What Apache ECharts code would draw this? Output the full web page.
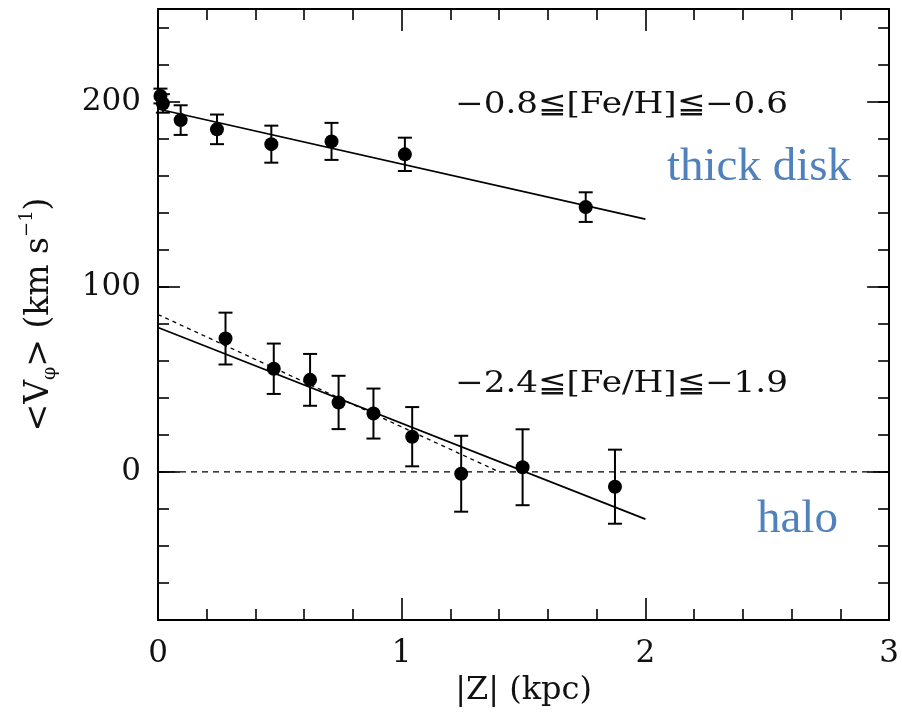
<!DOCTYPE html>
<html>
<head>
<meta charset="utf-8">
<script src="https://cdn.jsdelivr.net/npm/echarts@6/dist/echarts.min.js"></script>
<style>html,body{margin:0;padding:0;background:#fff}#c{width:902px;height:720px}</style>
</head>
<body>
<div id="c"></div>
<script>
// ---- data ----
const diskZ   = [0.01, 0.02, 0.093, 0.242, 0.465, 0.712, 1.013, 1.755];
const diskV   = [203, 199, 190, 185, 177, 178.5, 171.5, 143];
const diskErr = [4, 5, 8, 8, 10, 10, 9, 8];

const haloZ   = [0.277, 0.475, 0.624, 0.741, 0.884, 1.043, 1.244, 1.496, 1.875];
const haloV   = [72, 55.7, 49.7, 37.5, 31.5, 19, -1, 2.5, -8];
const haloErr = [14, 13.6, 14, 14.4, 13.5, 16, 20.5, 20.5, 20];

const diskFit       = [[0, 196], [2, 136.5]];
const haloFit       = [[0, 78], [2, -25.5]];
const haloFitDashed = [[0, 85], [1.4, 0]];
const zeroLine      = [[0, 0], [3, 0]];

const xTickLabels = [0, 1, 2, 3];
const yTickLabels = [0, 100, 200];
const yMajorTicks = [0, 100, 200];

const label1 = '\u22120.8\u2266[Fe/H]\u2266\u22120.6';
const label2 = '\u22122.4\u2266[Fe/H]\u2266\u22121.9';

// ---- chart ----
const SERIF = '"DejaVu Serif", serif';
const chart = echarts.init(document.getElementById('c'), null, {renderer: 'canvas'});

function errData(z, v, e) { return z.map((x, i) => [x, v[i] - e[i], v[i] + e[i]]); }
function errRender(params, api) {
  const x = api.value(0);
  const lo = api.coord([x, api.value(1)]);
  const hi = api.coord([x, api.value(2)]);
  const w = 7;
  const st = {stroke: '#000', lineWidth: 2};
  return {type: 'group', children: [
    {type: 'line', shape: {x1: lo[0], y1: lo[1], x2: hi[0], y2: hi[1]}, style: st},
    {type: 'line', shape: {x1: lo[0] - w, y1: lo[1], x2: lo[0] + w, y2: lo[1]}, style: st},
    {type: 'line', shape: {x1: hi[0] - w, y1: hi[1], x2: hi[0] + w, y2: hi[1]}, style: st}
  ]};
}

const axisLineStyle = {show: true, onZero: false, lineStyle: {color: '#000', width: 2}};
const xCommon = {type: 'value', min: 0, max: 3, interval: 1, splitLine: {show: false},
  axisLine: axisLineStyle,
  axisTick: {show: true, inside: true, length: 22, lineStyle: {color: '#000', width: 1.6}},
  minorTick: {show: true, splitNumber: 5, length: 11, lineStyle: {color: '#000', width: 1.6}}};
const yBase = {type: 'value', min: -80, max: 250, interval: 20, splitLine: {show: false}};

chart.setOption({
  backgroundColor: '#fff',
  animation: false,
  grid: {left: 158, right: 10, top: 9, bottom: 100, containLabel: false},
  xAxis: [
    Object.assign({}, xCommon, {position: 'bottom',
      name: '|Z| (kpc)', nameLocation: 'middle', nameGap: 55,
      nameTextStyle: {fontFamily: SERIF, fontSize: 32, color: '#111'},
      axisLabel: {show: true, customValues: xTickLabels, margin: 18, fontFamily: SERIF, fontSize: 31, color: '#111'}}),
    Object.assign({}, xCommon, {position: 'top', axisLabel: {show: false}})
  ],
  yAxis: [
    Object.assign({}, yBase, {position: 'left',
      axisLine: axisLineStyle,
      axisTick: {show: true, inside: true, length: 11, lineStyle: {color: '#000', width: 1.6}},
      axisLabel: {show: true, customValues: yTickLabels, margin: 17, fontFamily: SERIF, fontSize: 31, color: '#111'},
      name: '{a|<V}{s|\u03c6}{a|> (km s}{p|\u22121}{a|)}', nameLocation: 'middle', nameGap: 98, nameRotate: 90,
      nameTextStyle: {fontFamily: SERIF, fontSize: 33, color: '#111', rich: {
        a: {fontFamily: SERIF, fontSize: 33, color: '#111', lineHeight: 42, verticalAlign: 'middle'},
        s: {fontFamily: SERIF, fontSize: 19, color: '#111', lineHeight: 42, verticalAlign: 'bottom'},
        p: {fontFamily: SERIF, fontSize: 18, color: '#111', lineHeight: 42, verticalAlign: 'top'}
      }}}),
    Object.assign({}, yBase, {position: 'left', axisLine: {show: false, onZero: false}, axisLabel: {show: false},
      axisTick: {show: true, inside: true, length: 22, customValues: yMajorTicks, lineStyle: {color: '#000', width: 1.6}}}),
    Object.assign({}, yBase, {position: 'right', axisLine: axisLineStyle, axisLabel: {show: false},
      axisTick: {show: true, inside: true, length: 11, lineStyle: {color: '#000', width: 1.6}}}),
    Object.assign({}, yBase, {position: 'right', axisLine: {show: false, onZero: false}, axisLabel: {show: false},
      axisTick: {show: true, inside: true, length: 22, customValues: yMajorTicks, lineStyle: {color: '#000', width: 1.6}}})
  ],
  series: [
    {type: 'line', data: zeroLine, symbol: 'none', silent: true,
      lineStyle: {color: '#000', width: 1.4, type: [6, 5]}},
    {type: 'line', data: diskFit, symbol: 'none', silent: true,
      lineStyle: {color: '#000', width: 1.7}},
    {type: 'line', data: haloFit, symbol: 'none', silent: true,
      lineStyle: {color: '#000', width: 1.7}},
    {type: 'line', data: haloFitDashed, symbol: 'none', silent: true,
      lineStyle: {color: '#000', width: 1.3, type: [4, 4]}},
    {type: 'custom', data: errData(diskZ, diskV, diskErr), renderItem: errRender,
      encode: {x: 0, y: [1, 2]}, clip: false, z: 3},
    {type: 'custom', data: errData(haloZ, haloV, haloErr), renderItem: errRender,
      encode: {x: 0, y: [1, 2]}, clip: false, z: 3},
    {type: 'scatter', data: diskZ.map((x, i) => [x, diskV[i]]), symbol: 'circle', symbolSize: 14,
      itemStyle: {color: '#000', opacity: 1}, clip: false, z: 4},
    {type: 'scatter', data: haloZ.map((x, i) => [x, haloV[i]]), symbol: 'circle', symbolSize: 14,
      itemStyle: {color: '#000', opacity: 1}, clip: false, z: 4}
  ],
  graphic: [
    {type: 'text', x: 455, y: 105, scaleX: 1.18, z: 10, style: {text: label1, font: '29px ' + SERIF, fill: '#111',
      align: 'left', verticalAlign: 'middle', textAlign: 'left', textVerticalAlign: 'middle'}},
    {type: 'text', x: 455, y: 384, scaleX: 1.18, z: 10, style: {text: label2, font: '29px ' + SERIF, fill: '#111',
      align: 'left', verticalAlign: 'middle', textAlign: 'left', textVerticalAlign: 'middle'}},
    {type: 'text', x: 667, y: 168, z: 10, style: {text: 'thick disk', font: '47px "Liberation Serif", serif', fill: '#4f81bd',
      align: 'left', verticalAlign: 'middle', textAlign: 'left', textVerticalAlign: 'middle'}},
    {type: 'text', x: 757, y: 520, z: 10, style: {text: 'halo', font: '47px "Liberation Serif", serif', fill: '#4f81bd',
      align: 'left', verticalAlign: 'middle', textAlign: 'left', textVerticalAlign: 'middle'}}
  ]
});
</script>
</body>
</html>
